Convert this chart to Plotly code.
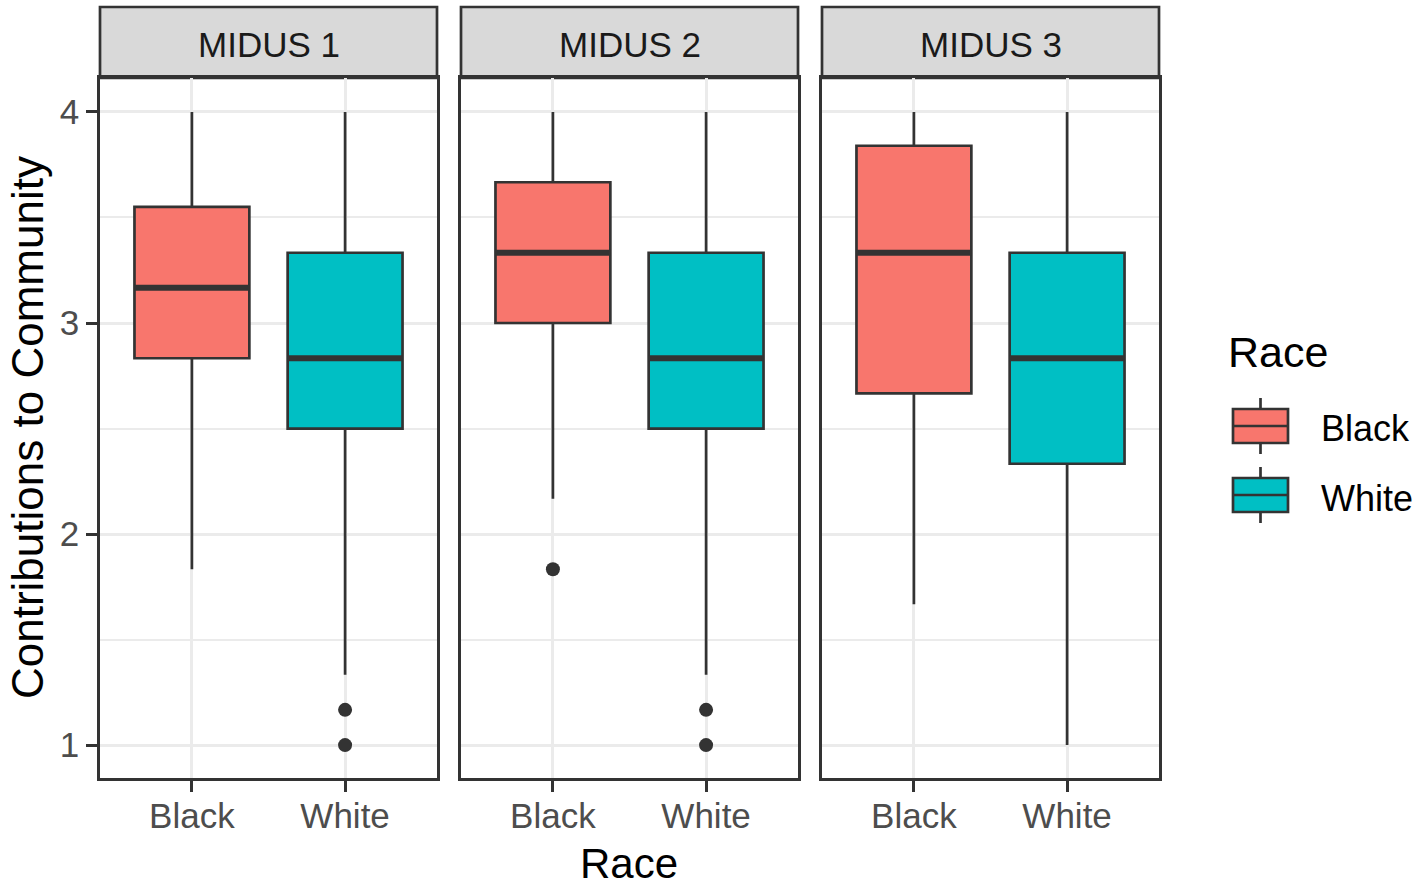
import plotly.graph_objects as go

# ---------------- data ----------------
waves = ["MIDUS 1", "MIDUS 2", "MIDUS 3"]
races = ["Black", "White"]

# per wave, per race: [Black, White]
q1 = [[2.833, 2.5], [3.0, 2.5], [2.667, 2.333]]
median = [[3.167, 2.833], [3.333, 2.833], [3.333, 2.833]]
q3 = [[3.55, 3.333], [3.667, 3.333], [3.84, 3.333]]
lower = [[1.833, 1.333], [2.167, 1.333], [1.667, 1.0]]
upper = [[4.0, 4.0], [4.0, 4.0], [4.0, 4.0]]
# outliers per wave, per race
outliers = [[[], [1.167, 1.0]], [[1.833], [1.167, 1.0]], [[], []]]

y_ticks = [1, 2, 3, 4]
y_minor = [1.5, 2.5, 3.5]

# ---------------- style ----------------
colors = {"Black": "#F8766D", "White": "#00BFC4"}
DARK = "#333333"
GRID = "#EBEBEB"
FONT = "Liberation Sans, Arial, sans-serif"
BOX_W = 0.75
LW = 2.7

W, H = 1418, 889
panel_px = [(100, 437), (461, 798), (822, 1159)]
plot_top_px, plot_bot_px = 78, 778
strip_top_px = 7

def px_x(p):
    return p / W

def px_y(p):
    return 1 - p / H

fig = go.Figure()

for i, wave in enumerate(waves):
    xa = "x" if i == 0 else f"x{i+1}"
    ya = "y" if i == 0 else f"y{i+1}"
    for j, race in enumerate(races):
        pos = j + 1
        fig.add_trace(go.Box(
            x=[pos], q1=[q1[i][j]], median=[median[i][j]], q3=[q3[i][j]],
            lowerfence=[lower[i][j]], upperfence=[upper[i][j]],
            width=BOX_W, boxpoints=False, whiskerwidth=0,
            fillcolor=colors[race], line=dict(color=DARK, width=LW),
            name=race, showlegend=False,
            xaxis=xa, yaxis=ya, hoverinfo="skip",
        ))
        # thicker median line (ggplot style)
        fig.add_trace(go.Scatter(
            x=[pos - BOX_W / 2, pos + BOX_W / 2],
            y=[median[i][j], median[i][j]],
            mode="lines", line=dict(color=DARK, width=6),
            showlegend=False, xaxis=xa, yaxis=ya, hoverinfo="skip",
        ))
        if outliers[i][j]:
            fig.add_trace(go.Scatter(
                x=[pos] * len(outliers[i][j]), y=outliers[i][j],
                mode="markers", marker=dict(color=DARK, size=14),
                showlegend=False, xaxis=xa, yaxis=ya, hoverinfo="skip",
            ))

layout = dict(
    width=W, height=H,
    margin=dict(l=0, r=0, t=0, b=0),
    paper_bgcolor="white", plot_bgcolor="white",
    boxmode="overlay",
    font=dict(family=FONT),
    showlegend=False,
)

shapes = []
annotations = []
for i, (a, b) in enumerate(panel_px):
    sfx = "" if i == 0 else str(i + 1)
    layout[f"xaxis{sfx}"] = dict(
        domain=[px_x(a), px_x(b)], range=[0.4, 2.6],
        tickvals=[1, 2], ticktext=races,
        showgrid=True, gridcolor=GRID, gridwidth=2.5, zeroline=False,
        showline=True, mirror=True, linecolor=DARK, linewidth=LW,
        ticks="outside", ticklen=11, tickwidth=LW, tickcolor=DARK,
        ticklabelstandoff=-6,
        tickfont=dict(size=35, color="#4D4D4D", family=FONT),
        anchor="y" + sfx, fixedrange=True,
    )
    layout[f"yaxis{sfx}"] = dict(
        domain=[px_y(plot_bot_px), px_y(plot_top_px)], range=[0.844, 4.161],
        tickvals=y_ticks, showticklabels=(i == 0),
        showgrid=True, gridcolor=GRID, gridwidth=2.5, zeroline=False,
        minor=dict(tickvals=y_minor, showgrid=True, gridcolor=GRID, gridwidth=1.8, ticks=""),
        showline=True, mirror=True, linecolor=DARK, linewidth=LW,
        ticks="outside" if i == 0 else "", ticklen=11, tickwidth=LW, tickcolor=DARK,
        tickfont=dict(size=35, color="#4D4D4D", family=FONT),
        anchor="x" + sfx, fixedrange=True,
    )
    shapes.append(dict(
        type="rect", xref="paper", yref="paper",
        x0=px_x(a), x1=px_x(b), y0=px_y(plot_top_px), y1=px_y(strip_top_px),
        fillcolor="#D9D9D9", line=dict(color=DARK, width=LW), layer="below",
    ))
    annotations.append(dict(
        text=waves[i], xref="paper", yref="paper",
        x=px_x((a + b) / 2), y=px_y((strip_top_px + plot_top_px) / 2 + 2),
        xanchor="center", yanchor="middle", showarrow=False,
        font=dict(size=35, color="#1A1A1A", family=FONT),
    ))

# axis titles
annotations.append(dict(
    text="Race", xref="paper", yref="paper",
    x=px_x(629), y=0, xanchor="center", yanchor="bottom",
    showarrow=False, font=dict(size=42, color="black", family=FONT),
))
annotations.append(dict(
    text="Contributions to Community", xref="paper", yref="paper",
    x=px_x(27), y=px_y(428), xanchor="center", yanchor="middle",
    textangle=-90, showarrow=False, font=dict(size=44, color="black", family=FONT),
))

# legend (ggplot-style keys)
annotations.append(dict(
    text="Race", xref="paper", yref="paper",
    x=px_x(1226), y=px_y(352), xanchor="left", yanchor="middle",
    showarrow=False, font=dict(size=43, color="black", family=FONT),
))
key_x0, key_x1 = 1233, 1288
key_cy0, key_step = 426, 69
for k, race in enumerate(races):
    cy = key_cy0 + k * key_step
    cx = (key_x0 + key_x1) / 2
    shapes.append(dict(type="line", xref="paper", yref="paper",
                       x0=px_x(cx), x1=px_x(cx), y0=px_y(cy - 28), y1=px_y(cy + 28),
                       line=dict(color=DARK, width=LW)))
    shapes.append(dict(type="rect", xref="paper", yref="paper",
                       x0=px_x(key_x0), x1=px_x(key_x1), y0=px_y(cy + 17), y1=px_y(cy - 17),
                       fillcolor=colors[race], line=dict(color=DARK, width=LW)))
    shapes.append(dict(type="line", xref="paper", yref="paper",
                       x0=px_x(key_x0), x1=px_x(key_x1), y0=px_y(cy), y1=px_y(cy),
                       line=dict(color=DARK, width=LW)))
    annotations.append(dict(
        text=race, xref="paper", yref="paper",
        x=px_x(1319), y=px_y(cy + 3), xanchor="left", yanchor="middle",
        showarrow=False, font=dict(size=36, color="black", family=FONT),
    ))

layout["shapes"] = shapes
layout["annotations"] = annotations
fig.update_layout(**layout)

fig.write_html(
    "out.html",
    config={"displayModeBar": False},
    post_script="document.body.style.margin='0';document.body.style.overflow='hidden';",
)
